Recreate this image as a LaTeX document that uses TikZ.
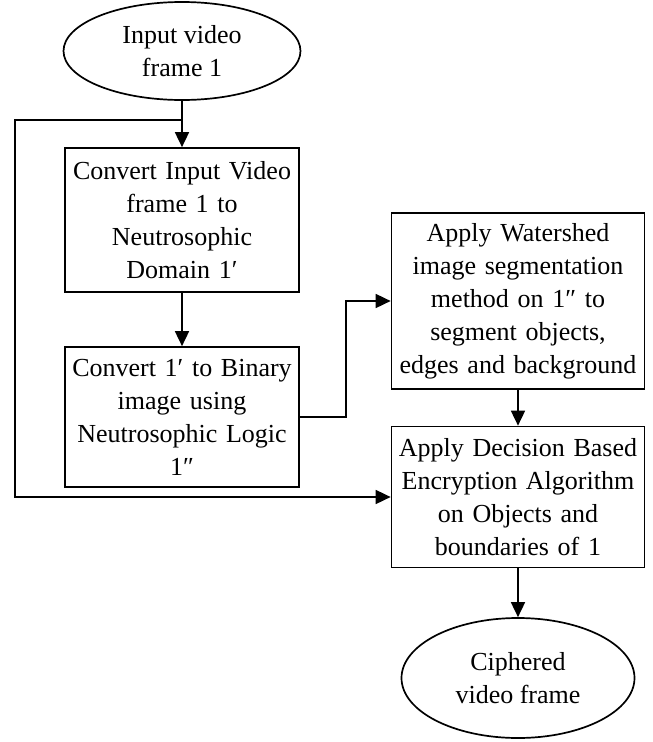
\documentclass[tikz,border=0pt]{standalone}
\usepackage{fontspec}
\setmainfont{Liberation Serif}
\usetikzlibrary{shapes.geometric,arrows.meta}

\tikzset{
  flow/.style={line width=1.7pt,-{Triangle[width=14pt,length=15pt]}},
  stepbox/.style={draw,line width=1.7pt,minimum width=234pt,text width=230pt,
    align=center,inner sep=0pt,font=\fontsize{26}{33}\selectfont},
  widebox/.style={stepbox,minimum width=253pt,text width=249pt},
  terminal/.style={draw,ellipse,line width=1.7pt,align=center,inner sep=0pt,
    font=\fontsize{26}{33}\selectfont}
}

\begin{document}
\begin{tikzpicture}[x=1pt,y=-1pt]
  \useasboundingbox (0,0) rectangle (653,742);

  % Start and end of the flow
  \node[terminal,minimum width=237pt,minimum height=98pt] (inframe) at (182,51) {Input video\\frame 1};
  \node[terminal,minimum width=233pt,minimum height=120pt] (outframe) at (518,678) {Ciphered\\video frame};

  % Processing steps
  \node[stepbox,minimum height=144pt] (neutro) at (182,220) {Convert Input Video\\frame 1 to\\Neutrosophic\\Domain 1′};
  \node[stepbox,minimum height=140pt] (binary) at (182,417) {Convert 1′ to Binary\\image using\\Neutrosophic Logic\\1″};
  \node[widebox,minimum height=176pt] (water) at (518,301) {Apply Watershed\\image segmentation\\method on 1″ to\\segment objects,\\edges and background};
  \node[widebox,minimum height=141pt] (encrypt) at (518,497) {Apply Decision Based\\Encryption Algorithm\\on Objects and\\boundaries of 1};

  % Bypass of the original frame
  \coordinate (split) at (182,120);
  \coordinate (loopL) at (15,120);

  \draw[flow] (inframe) -- (neutro);
  \draw[flow] (neutro) -- (binary);
  \draw[flow] (binary.east) -- ++(46,0) |- (water.west);
  \draw[flow] (water) -- (encrypt);
  \draw[flow] (encrypt) -- (outframe);
  \draw[flow] (split) -- (loopL) |- (encrypt.west);
\end{tikzpicture}
\end{document}
